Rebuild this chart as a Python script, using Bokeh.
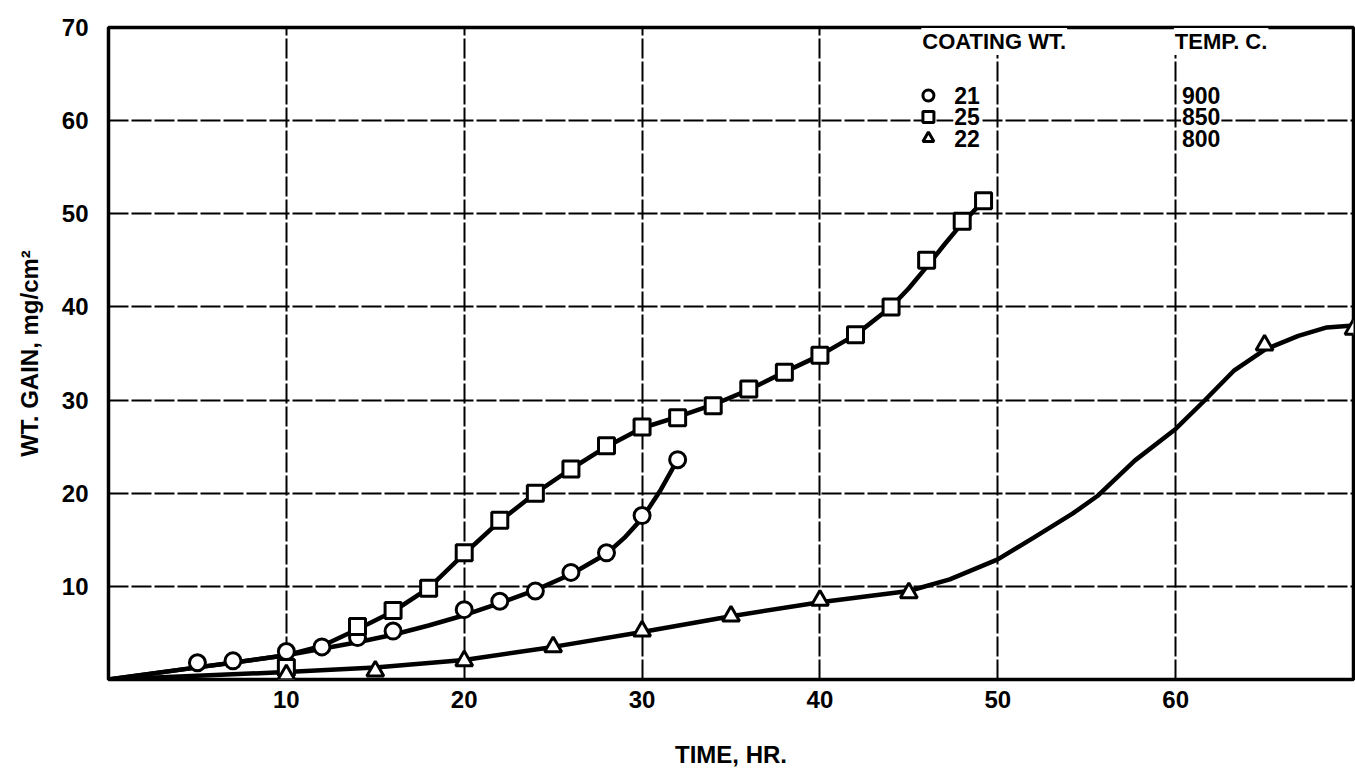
from bokeh.plotting import figure
from bokeh.models import FixedTicker, Label, Range1d
from bokeh.embed import file_html
from bokeh.resources import INLINE

# ---- data ----
circ_x = [5, 7, 10, 12, 14, 16, 20, 22, 24, 26, 28, 30, 32]
circ_y = [1.8, 2.0, 3.0, 3.5, 4.5, 5.2, 7.5, 8.4, 9.5, 11.5, 13.6, 17.6, 23.6]
circ_curve_x = [0, 5, 7, 10, 12, 14, 16, 18, 20, 22, 24, 26, 28, 29, 30, 31, 32]
circ_curve_y = [0, 1.3, 1.8, 2.6, 3.3, 4.0, 4.8, 5.8, 6.9, 8.2, 9.6, 11.3, 13.5, 15.2, 17.3, 20.2, 23.6]

sq_x = [10, 14, 16, 18, 20, 22, 24, 26, 28, 30, 32, 34, 36, 38, 40, 42, 44, 46, 48, 49.2]
sq_y = [1.3, 5.7, 7.4, 9.8, 13.6, 17.1, 20.0, 22.6, 25.1, 27.1, 28.1, 29.4, 31.2, 33.0, 34.8, 37.0, 40.0, 45.0, 49.2, 51.4]
sq_curve_x = [0, 5, 10, 12, 14, 16, 18, 20, 22, 24, 26, 28, 30, 32, 34, 36, 38, 40, 42, 44, 45, 46, 47, 48, 49.2]
sq_curve_y = [0, 1.3, 2.6, 3.6, 5.4, 7.3, 9.8, 13.5, 17.0, 20.0, 22.6, 25.0, 27.0, 28.2, 29.5, 31.1, 33.0, 34.8, 37.0, 40.0, 42.0, 44.3, 46.7, 49.0, 51.4]

tri_x = [10, 15, 20, 25, 30, 35, 40, 45, 65, 70]
tri_y = [0.5, 0.9, 2.0, 3.5, 5.2, 6.8, 8.5, 9.3, 35.9, 37.6]
tri_curve_x = [0, 10, 15, 20, 25, 30, 35, 40, 45, 47.3, 50, 52, 54.2, 55.6, 57.7, 60, 61.6, 63.3, 65, 66.9, 68.5, 70]
tri_curve_y = [0, 0.8, 1.3, 2.1, 3.5, 5.1, 6.8, 8.3, 9.5, 10.75, 12.9, 15.2, 17.8, 19.7, 23.5, 26.9, 29.9, 33.2, 35.4, 36.9, 37.8, 38.0]

x_ticks = [10, 20, 30, 40, 50, 60]
y_ticks = [10, 20, 30, 40, 50, 60, 70]

legend_coating = ["21", "25", "22"]
legend_temp = ["900", "850", "800"]

FONT = "Liberation Sans"

p = figure(width=1355, height=769, output_backend="svg", toolbar_location=None,
           x_range=Range1d(0, 70), y_range=Range1d(0, 70),
           min_border_left=108, min_border_top=27, min_border_right=2, min_border_bottom=90,
           frame_width=1245, frame_height=652)
p.background_fill_color = "white"
p.border_fill_color = "white"
p.outline_line_color = "black"
p.outline_line_width = 3.5

for ax in (p.xaxis, p.yaxis):
    ax.axis_line_color = None
    ax.major_tick_line_color = None
    ax.minor_tick_line_color = None
    ax.major_label_text_font = FONT
    ax.major_label_text_font_style = "bold"
    ax.major_label_text_font_size = "24px"
    ax.major_label_text_color = "black"
    ax.axis_label_text_font = FONT
    ax.axis_label_text_font_style = "bold"
    ax.axis_label_text_font_size = "24px"
    ax.axis_label_text_color = "black"

p.xaxis.ticker = FixedTicker(ticks=x_ticks)
p.yaxis.ticker = FixedTicker(ticks=y_ticks)
p.xaxis.major_label_standoff = 5
p.yaxis.major_label_standoff = 14
p.xaxis.axis_label = "TIME, HR."
p.yaxis.axis_label = "WT. GAIN, mg/cm²"
p.xaxis.axis_label_standoff = 30
p.yaxis.axis_label_standoff = 16

for g in (p.xgrid, p.ygrid):
    g.grid_line_color = "black"
    g.grid_line_width = 2
    g.grid_line_dash = "20 3"
    g.grid_line_alpha = 1.0

# curves
p.line(circ_curve_x, circ_curve_y, line_color="black", line_width=4.5)
p.line(sq_curve_x, sq_curve_y, line_color="black", line_width=4.5)
p.line(tri_curve_x, tri_curve_y, line_color="black", line_width=4.5)

# markers
p.scatter(circ_x, circ_y, marker="circle", size=16, fill_color="white", line_color="black", line_width=3)
p.scatter(sq_x, sq_y, marker="square", size=16, fill_color="white", line_color="black", line_width=3)
p.scatter(tri_x, tri_y, marker="triangle", size=17, fill_color="white", line_color="black", line_width=3)

# legend table
def lab(x, y, t, size="23px"):
    p.add_layout(Label(x=x, y=y, text=t, text_font=FONT, text_font_style="bold",
                       text_font_size=size, text_color="black", text_baseline="middle",
                       text_align="left", background_fill_color="white",
                       padding=1))

lab(45.7, 68.5, "COATING WT.", "22px")
lab(59.9, 68.5, "TEMP. C.", "22px")
rows_y = [62.7, 60.4, 58.1]
markers = ["circle", "square", "triangle"]
for ry, m, c, t in zip(rows_y, markers, legend_coating, legend_temp):
    lab(47.5, ry, c)
    lab(60.3, ry, t)
    p.scatter([46.1], [ry], marker=m, size=11, fill_color="white", line_color="black", line_width=3)

open("out.html", "w").write(file_html(p, INLINE))
